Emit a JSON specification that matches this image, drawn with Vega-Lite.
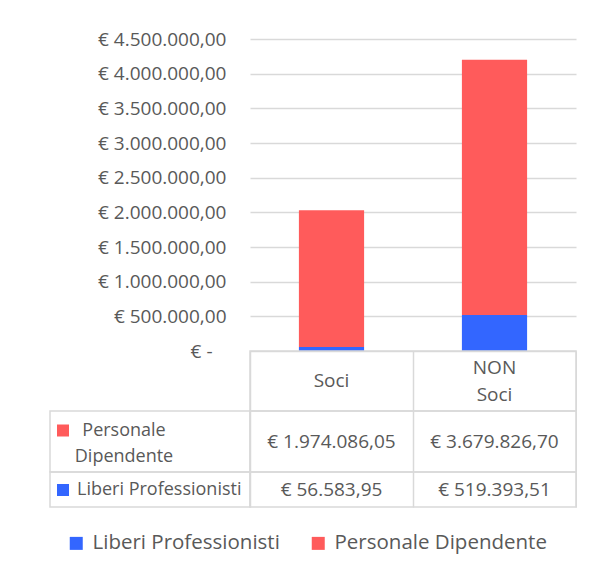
{
  "$schema": "https://vega.github.io/schema/vega-lite/v6.json",
  "background": "white",
  "padding": {"left": 49, "top": 30, "right": 0, "bottom": 16},
  "datasets": {
    "importi": [
      {"categoria": "Soci", "serie": "Liberi Professionisti", "importo": 56583.95},
      {"categoria": "NON Soci", "serie": "Liberi Professionisti", "importo": 519393.51},
      {"categoria": "Soci", "serie": "Personale Dipendente", "importo": 1974086.05},
      {"categoria": "NON Soci", "serie": "Personale Dipendente", "importo": 3679826.70}
    ]
  },
  "columns": 2,
  "spacing": 0,
  "bounds": "flush",
  "align": "each",
  "resolve": {
    "scale": {"x": "independent", "y": "independent", "color": "independent"},
    "legend": {"color": "independent"}
  },
  "concat": [
    {
      "width": 200, "height": 312,
      "data": {"values": [{}]},
      "mark": {"type": "text", "text": ""},
      "encoding": {}
    },
    {
      "width": 326, "height": 312,
      "data": {"name": "importi"},
      "mark": {"type": "bar"},
      "encoding": {
        "x": {"field": "categoria", "type": "nominal", "sort": ["Soci", "NON Soci"], "axis": null,
              "scale": {"paddingInner": 0.6, "paddingOuter": 0.3}},
        "y": {"field": "importo", "type": "quantitative", "stack": "zero",
              "scale": {"domain": [0, 4500000], "nice": false},
              "axis": {"values": [0, 500000, 1000000, 1500000, 2000000, 2500000, 3000000, 3500000, 4000000, 4500000],
                       "format": "$,.2f",
                       "labelExpr": "datum.value == 0 ? '€ -\u2800' : datum.label",
                       "title": null, "domain": false, "ticks": false, "labelPadding": 24,
                       "gridColor": "#d9d9d9", "gridWidth": 1.3,
                       "labelFont": "Open Sans", "labelFontSize": 19, "labelColor": "#595959"}},
        "color": {"field": "serie", "type": "nominal",
                  "scale": {"domain": ["Liberi Professionisti", "Personale Dipendente"], "range": ["#3366FF", "#FF5B5B"]},
                  "legend": {"orient": "none", "legendX": -184, "legendY": 494, "direction": "horizontal", "columns": 2,
                             "title": null, "symbolType": "square", "symbolSize": 169, "symbolStrokeWidth": 0,
                             "labelFont": "Open Sans", "labelFontSize": 20.5, "labelColor": "#595959",
                             "columnPadding": 28, "labelOffset": 6, "labelLimit": 400}},
        "order": {"field": "serie", "sort": "ascending"}
      }
    },
    {
      "width": 200, "height": 60,
      "data": {"values": [{}]},
      "mark": {"type": "text", "text": ""},
      "encoding": {}
    },
    {
      "width": 326, "height": 60,
      "view": {"stroke": "#d9d9d9", "strokeWidth": 1.5},
      "data": {"name": "importi"},
      "transform": [{"filter": "datum.serie == 'Liberi Professionisti'"}],
      "encoding": {
        "x": {"field": "categoria", "type": "nominal", "sort": ["Soci", "NON Soci"],
              "scale": {"paddingInner": 0, "paddingOuter": 0},
              "axis": {"title": null, "labels": false, "ticks": false, "domain": false, "grid": true, "tickBand": "extent",
                       "gridColor": "#d9d9d9", "gridWidth": 1.5}},
        "text": {"field": "categoria"}
      },
      "layer": [
        {
          "transform": [{"filter": "indexof(datum.categoria, ' ') < 0"}],
          "mark": {"type": "text", "font": "Open Sans", "fontSize": 19, "color": "#595959"}
        },
        {
          "transform": [{"filter": "indexof(datum.categoria, ' ') >= 0"}],
          "mark": {"type": "text", "lineBreak": " ", "lineHeight": 27, "dy": -13, "font": "Open Sans", "fontSize": 19, "color": "#595959"}
        }
      ]
    },
    {
      "width": 200, "height": 61,
      "view": {"stroke": "#d9d9d9", "strokeWidth": 1.5},
      "data": {"name": "importi"},
      "transform": [{"filter": "datum.serie == 'Personale Dipendente' && datum.categoria == 'Soci'"}],
      "mark": {"type": "text", "text": ""},
      "encoding": {
        "color": {"field": "serie", "type": "nominal",
                  "scale": {"domain": ["Personale Dipendente"], "range": ["#FF5B5B"]},
                  "legend": {"orient": "none", "legendX": 4, "legendY": 10.5, "padding": 0, "title": null,
                             "symbolType": "square", "symbolSize": 144, "symbolStrokeWidth": 0,
                             "labelFont": "Open Sans", "labelFontSize": 18, "labelColor": "#595959",
                             "labelAlign": "center", "labelOffset": 52, "labelExpr": "split(datum.label, ' ')"}}
      }
    },
    {
      "width": 326, "height": 61,
      "view": {"stroke": "#d9d9d9", "strokeWidth": 1.5},
      "data": {"name": "importi"},
      "transform": [{"filter": "datum.serie == 'Personale Dipendente'"}],
      "mark": {"type": "text", "font": "Open Sans", "fontSize": 19, "color": "#595959"},
      "encoding": {
        "x": {"field": "categoria", "type": "nominal", "sort": ["Soci", "NON Soci"],
              "scale": {"paddingInner": 0, "paddingOuter": 0},
              "axis": {"title": null, "labels": false, "ticks": false, "domain": false, "grid": true, "tickBand": "extent",
                       "gridColor": "#d9d9d9", "gridWidth": 1.5}},
        "text": {"field": "importo", "type": "quantitative", "format": "$,.2f"}
      }
    },
    {
      "width": 200, "height": 35,
      "view": {"stroke": "#d9d9d9", "strokeWidth": 1.5},
      "data": {"name": "importi"},
      "transform": [{"filter": "datum.serie == 'Liberi Professionisti' && datum.categoria == 'Soci'"}],
      "mark": {"type": "text", "text": ""},
      "encoding": {
        "color": {"field": "serie", "type": "nominal",
                  "scale": {"domain": ["Liberi Professionisti"], "range": ["#3366FF"]},
                  "legend": {"orient": "none", "legendX": 4, "legendY": 9, "padding": 0, "title": null,
                             "symbolType": "square", "symbolSize": 144, "symbolStrokeWidth": 0,
                             "labelFont": "Open Sans", "labelFontSize": 18, "labelColor": "#595959",
                             "labelOffset": 5, "labelLimit": 300}}
      }
    },
    {
      "width": 326, "height": 35,
      "view": {"stroke": "#d9d9d9", "strokeWidth": 1.5},
      "data": {"name": "importi"},
      "transform": [{"filter": "datum.serie == 'Liberi Professionisti'"}],
      "mark": {"type": "text", "font": "Open Sans", "fontSize": 19, "color": "#595959"},
      "encoding": {
        "x": {"field": "categoria", "type": "nominal", "sort": ["Soci", "NON Soci"],
              "scale": {"paddingInner": 0, "paddingOuter": 0},
              "axis": {"title": null, "labels": false, "ticks": false, "domain": false, "grid": true, "tickBand": "extent",
                       "gridColor": "#d9d9d9", "gridWidth": 1.5}},
        "text": {"field": "importo", "type": "quantitative", "format": "$,.2f"}
      }
    }
  ],
  "config": {
    "font": "Open Sans",
    "view": {"stroke": null},
    "locale": {"number": {"decimal": ",", "thousands": ".", "grouping": [3], "currency": ["€ ", ""]}},
    "style": {"guide-label": {"lineHeight": 26}}
  }
}
